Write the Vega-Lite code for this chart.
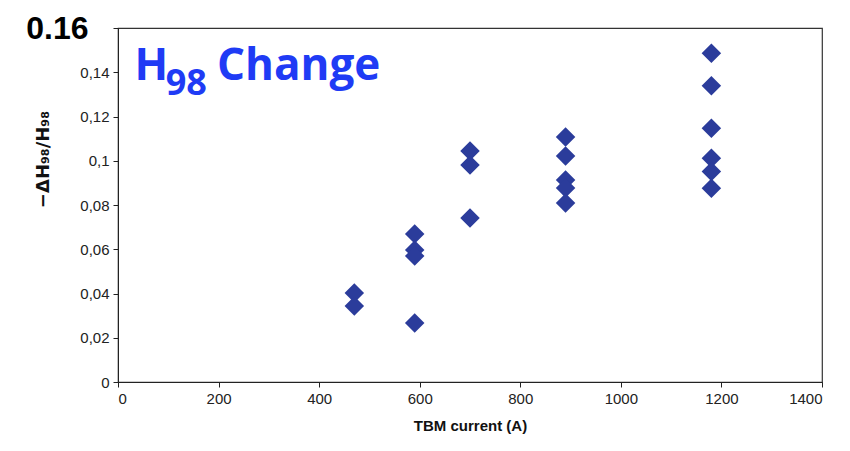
{
  "$schema": "https://vega.github.io/schema/vega-lite/v6.json",
  "autosize": {"type": "none"},
  "width": 704,
  "height": 354,
  "padding": {"left": 118, "top": 28, "right": 28, "bottom": 69},
  "background": "white",
  "config": {
    "view": {"stroke": "#333", "strokeWidth": 1.2},
    "font": "Liberation Sans"
  },
  "layer": [
    {
      "data": {
        "values": [
          {"current": 470, "dh": 0.0402},
          {"current": 470, "dh": 0.0343},
          {"current": 590, "dh": 0.0669},
          {"current": 590, "dh": 0.0597},
          {"current": 590, "dh": 0.0570},
          {"current": 590, "dh": 0.0267},
          {"current": 700, "dh": 0.1044},
          {"current": 700, "dh": 0.0981},
          {"current": 700, "dh": 0.0741},
          {"current": 890, "dh": 0.1107},
          {"current": 890, "dh": 0.1021},
          {"current": 890, "dh": 0.0913},
          {"current": 890, "dh": 0.0877},
          {"current": 890, "dh": 0.0809},
          {"current": 1180, "dh": 0.1486},
          {"current": 1180, "dh": 0.1339},
          {"current": 1180, "dh": 0.1147},
          {"current": 1180, "dh": 0.1011},
          {"current": 1180, "dh": 0.0951},
          {"current": 1180, "dh": 0.0876}
        ]
      },
      "mark": {"type": "point", "shape": "diamond", "filled": true, "size": 380, "color": "#2B3C9B", "opacity": 1},
      "encoding": {
        "x": {
          "field": "current", "type": "quantitative",
          "scale": {"domain": [0, 1400], "nice": false},
          "axis": {
            "title": "TBM current (A)",
            "values": [0, 200, 400, 600, 800, 1000, 1200, 1400],
            "format": "d",
            "grid": false,
            "domainColor": "#222", "tickColor": "#222", "tickSize": 5,
            "labelFontSize": 15, "labelColor": "#222", "labelPadding": 4,
            "titleFontSize": 15, "titleFontWeight": "bold", "titleColor": "#111", "titlePadding": 12
          }
        },
        "y": {
          "field": "dh", "type": "quantitative",
          "scale": {"domain": [0, 0.16], "nice": false},
          "axis": {
            "title": "−ΔH₉₈/H₉₈",
            "values": [0, 0.02, 0.04, 0.06, 0.08, 0.1, 0.12, 0.14, 0.16],
            "grid": false,
            "domainColor": "#222", "tickColor": "#222", "tickSize": 5,
            "labelExpr": "datum.value > 0.159 ? '0.16' : replace(toString(datum.value), '.', ',')",
            "labelFontSize": {"condition": {"test": "datum.value > 0.159", "value": 32}, "value": 15},
            "labelFontWeight": {"condition": {"test": "datum.value > 0.159", "value": "bold"}, "value": "normal"},
            "labelColor": {"condition": {"test": "datum.value > 0.159", "value": "#000"}, "value": "#222"},
            "labelPadding": {"condition": {"test": "datum.value > 0.159", "value": 25}, "value": 4},
            "titleFont": "DejaVu Sans",
            "titleFontSize": 18, "titleFontWeight": "bold", "titleColor": "#111",
            "titleX": -75, "titleY": 131, "titleBaseline": "middle", "titleAngle": -90
          }
        }
      }
    },
    {
      "data": {"values": [{"part": "H"}]},
      "mark": {"type": "text", "align": "left", "baseline": "alphabetic", "font": "Open Sans", "fontWeight": "bold", "fontSize": 44, "color": "#1F3BF5"},
      "encoding": {
        "text": {"field": "part"},
        "x": {"datum": 33, "type": "quantitative"},
        "y": {"datum": 0.1365, "type": "quantitative"}
      }
    },
    {
      "data": {"values": [{"part": "98"}]},
      "mark": {"type": "text", "align": "left", "baseline": "alphabetic", "font": "Open Sans", "fontWeight": "bold", "fontSize": 36, "color": "#1F3BF5"},
      "encoding": {
        "text": {"field": "part"},
        "x": {"datum": 95, "type": "quantitative"},
        "y": {"datum": 0.1297, "type": "quantitative"}
      }
    },
    {
      "data": {"values": [{"part": "Change"}]},
      "mark": {"type": "text", "align": "left", "baseline": "alphabetic", "font": "Open Sans", "fontWeight": "bold", "fontSize": 44, "color": "#1F3BF5"},
      "encoding": {
        "text": {"field": "part"},
        "x": {"datum": 197, "type": "quantitative"},
        "y": {"datum": 0.1365, "type": "quantitative"}
      }
    }
  ]
}
